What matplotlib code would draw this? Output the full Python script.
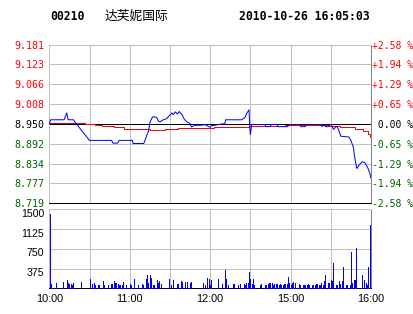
"""
intraday quote chart for 00210 (达芙妮国际), 2010-10-26
price + average price on top, minute volume below
"""
import matplotlib
matplotlib.use("Agg")
import matplotlib.pyplot as plt
from matplotlib.transforms import ScaledTranslation

# ---- data -------------------------------------------------------------------
prev_close = 8.950
price_levels = [9.181, 9.123, 9.066, 9.008, 8.950, 8.892, 8.834, 8.777, 8.719]
pct_labels = ["+2.58 %", "+1.94 %", "+1.29 %", "+0.65 %", " 0.00 %",
              "-0.65 %", "-1.29 %", "-1.94 %", "-2.58 %"]

# minutes since 10:00 (lunch break removed: 12:30 -> 14:30 at minute 150)
price_t = [0, 1, 11, 13, 14, 18, 19, 20, 30, 46.5, 47.5, 51, 52, 62, 62.5,
           70.5, 72, 74, 75, 76.5, 77.5, 80, 81.5, 82.5, 85, 87.5, 89, 91.5,
           92.5, 94, 95.5, 97, 99, 100.5, 102.5, 105, 106, 108.5, 113.5, 116,
           120, 121, 123.5, 126, 131, 131.5, 143.5, 146, 147.5, 149, 149.5,
           150, 151, 161, 161.5, 165, 165.5, 170, 170.5, 178, 178.5, 187,
           187.5, 191, 191.5, 203, 203.5, 205, 206, 208, 209.4, 210.7, 212,
           213, 214.5, 215.5, 217.5, 223.5, 225, 227, 227.5, 228.5, 229.5,
           231, 233.5, 235.5, 237.5, 239, 240]
price = [8.950, 8.962, 8.962, 8.982, 8.962, 8.962, 8.956, 8.951, 8.902,
         8.902, 8.894, 8.894, 8.902, 8.902, 8.893, 8.893, 8.909, 8.929,
         8.953, 8.967, 8.971, 8.969, 8.958, 8.956, 8.962, 8.965, 8.972,
         8.982, 8.977, 8.985, 8.979, 8.986, 8.977, 8.965, 8.956, 8.951,
         8.941, 8.946, 8.946, 8.948, 8.940, 8.945, 8.946, 8.948, 8.951,
         8.962, 8.962, 8.969, 8.982, 8.991, 8.943, 8.919, 8.948, 8.948,
         8.942, 8.942, 8.948, 8.948, 8.942, 8.942, 8.948, 8.948, 8.942,
         8.942, 8.948, 8.948, 8.942, 8.948, 8.942, 8.942, 8.948, 8.946,
         8.934, 8.938, 8.943, 8.936, 8.914, 8.912, 8.902, 8.880, 8.861,
         8.837, 8.820, 8.830, 8.840, 8.837, 8.823, 8.808, 8.792]

avg_t = [0, 27, 34, 39, 48, 56, 75, 86, 96, 123, 149, 176, 209, 217, 228,
         234, 238, 239, 240]
avg_price = [8.953, 8.951, 8.948, 8.945, 8.940, 8.936, 8.933, 8.936, 8.938,
             8.941, 8.943, 8.946, 8.943, 8.940, 8.936, 8.929, 8.921, 8.912,
             8.912]

vol_t = [0.6, 1, 5, 10, 13, 14, 15, 16, 17, 18, 24, 30, 32, 33, 34, 36, 37,
         40, 41, 44, 46, 47, 48, 49, 50, 51, 52, 53, 54, 55, 57, 60, 61, 63,
         66, 69, 70, 72, 73, 74, 75, 76, 77, 78, 80, 81, 82, 83, 89, 91, 92,
         95, 96, 98, 99, 101, 103, 105, 106, 115, 116, 118, 119, 120, 121,
         126, 129, 131, 132, 133, 137, 138, 141, 142, 145, 146, 147, 148,
         149, 150, 151, 152, 153, 157, 158, 161, 162, 163, 164, 165, 166,
         167, 168, 169, 170, 171, 172, 173, 174, 175, 176, 177, 178, 179,
         180, 181, 182, 183, 186, 187, 189, 190, 191, 192, 193, 194, 196,
         197, 198, 199, 200, 201, 202, 203, 204, 205, 206, 208, 209, 210,
         211, 212, 214, 215, 216, 217, 218, 219, 221, 222, 224, 225, 226,
         227, 228, 229, 233, 235, 236, 237, 238, 239, 239.6]
vol = [1420, 82, 108, 120, 158, 95, 76, 76, 63, 101, 120, 177, 89, 108, 63,
       63, 63, 139, 63, 63, 89, 76, 139, 108, 101, 89, 63, 63, 63, 120, 63,
       82, 63, 177, 63, 82, 63, 177, 253, 101, 253, 196, 63, 63, 158, 108,
       139, 82, 177, 63, 158, 82, 82, 139, 127, 127, 120, 108, 127, 108, 63,
       196, 171, 63, 158, 177, 82, 348, 177, 63, 82, 82, 63, 82, 82, 63, 95,
       95, 316, 177, 82, 177, 63, 63, 82, 63, 63, 82, 95, 108, 108, 63, 82,
       82, 82, 63, 82, 63, 63, 82, 76, 82, 222, 108, 63, 95, 120, 108, 82,
       63, 63, 63, 63, 63, 82, 63, 63, 63, 63, 82, 82, 63, 63, 108, 63, 139,
       253, 108, 108, 158, 146, 481, 63, 63, 139, 82, 139, 405, 63, 63, 63,
       690, 108, 158, 158, 766, 253, 158, 95, 63, 405, 95, 1200]
vol_levels = [375, 750, 1125, 1500]

time_ticks = [0, 60, 120, 180, 240]
time_labels = ["10:00", "11:00", "12:00", "15:00", "16:00"]

# ---- styling ---------------------------------------------------------------
GRID = "#c0c0c0"
RED = "#ff0000"
GREEN = "#006400"
PX = 0.72  # one pixel in points at dpi 100
MONO = "DejaVu Sans Mono"
SANS = "Liberation Sans"

fig = plt.figure(figsize=(4.14, 3.14), dpi=100)
fig.patch.set_facecolor("white")

W, H = 414.0, 314.0
x0, x1 = 49.3, 371.0


def frac_box(top, bottom):
    return [x0 / W, 1 - bottom / H, (x1 - x0) / W, (bottom - top) / H]


def level_color(p):
    if p > prev_close + 1e-6:
        return RED
    if p < prev_close - 1e-6:
        return GREEN
    return "black"


def style_frame(a):
    for side in ("top", "left"):
        a.spines[side].set_color(GRID)
    a.spines["right"].set_color("#808080")
    a.spines["bottom"].set_color("black")
    for sp in a.spines.values():
        sp.set_linewidth(PX)
    for m in range(30, 240, 30):
        a.axvline(m, color=GRID, lw=PX, zorder=1)


# ---- header ----------------------------------------------------------------
fig.text(50 / W, 1 - 17 / H, "00210", family=MONO, weight="bold",
         fontsize=8.3, va="center", ha="left")
fig.text(105 / W, 1 - 16 / H, "达芙妮国际", family=["Noto Sans CJK SC", "DejaVu Sans"],
         fontsize=9.2, va="center", ha="left")
fig.text(370 / W, 1 - 17 / H, "2010-10-26 16:05:03", family=MONO, weight="bold",
         fontsize=8.3, va="center", ha="right")

# ---- price panel -----------------------------------------------------------
ax = fig.add_axes(frac_box(44.5, 203.3))
ax.set_xlim(0, 240)
ax.set_ylim(price_levels[-1], price_levels[0])
ax.set_xticks([])
ax.set_yticks(price_levels)
ax.set_yticklabels([f"{p:.3f}" for p in price_levels], family=MONO, fontsize=7.2)
ax.tick_params(length=0)
ax.tick_params(axis="y", pad=3.8)
for lab, p in zip(ax.get_yticklabels(), price_levels):
    lab.set_color(level_color(p))
ax.grid(True, axis="y", color=GRID, lw=PX)
ax.set_axisbelow(True)
ax.axhline(prev_close, color="black", lw=PX, zorder=2)
style_frame(ax)

ax.plot(avg_t, avg_price, color=RED, lw=PX, drawstyle="steps-post", zorder=3)
ax.plot(price_t, price, color="#0000ff", lw=PX, zorder=4)

ax2 = ax.twinx()
ax2.set_ylim(ax.get_ylim())
ax2.set_yticks(price_levels)
ax2.set_yticklabels(pct_labels, family=MONO, fontsize=7.0)
ax2.tick_params(length=0, pad=0.6)
for lab, p in zip(ax2.get_yticklabels(), price_levels):
    lab.set_color(level_color(p))
for sp in ax2.spines.values():
    sp.set_visible(False)

# ---- volume panel ----------------------------------------------------------
vx = fig.add_axes(frac_box(209.3, 288.3))
vx.set_xlim(0, 240)
vx.set_ylim(0, 1500)
vx.set_xticks(time_ticks)
vx.set_xticklabels(time_labels, family=SANS, fontsize=7.8)
vx.set_yticks(vol_levels)
vx.set_yticklabels([str(v) for v in vol_levels], family=SANS, fontsize=7.6)
vx.tick_params(length=0)
vx.tick_params(axis="y", pad=3.8)
vx.tick_params(axis="x", pad=4.0)
# the volume labels sit a little under their grid lines
shift = ScaledTranslation(0, -3.5 / 100, fig.dpi_scale_trans)
for lab in vx.get_yticklabels():
    lab.set_transform(lab.get_transform() + shift)
vx.grid(True, axis="y", color=GRID, lw=PX)
vx.set_axisbelow(True)
style_frame(vx)

vx.vlines(vol_t, 0, vol, color="#0000ff", lw=0.72, antialiased=False,
          zorder=4, clip_on=False)

fig.savefig("out.png", dpi=100)
